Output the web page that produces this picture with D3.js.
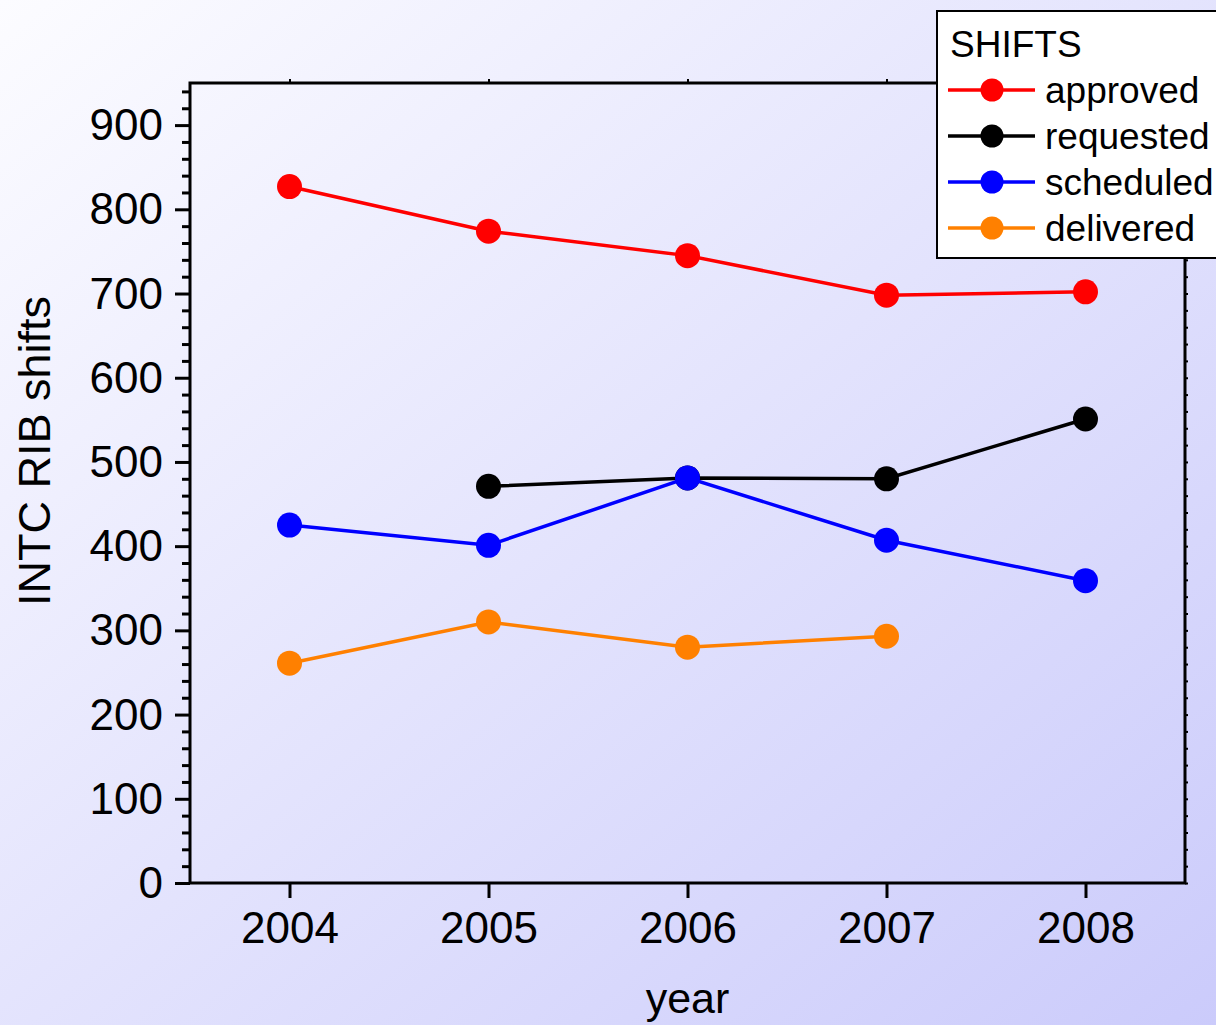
<!DOCTYPE html>
<html>
<head>
<meta charset="utf-8">
<script src="https://cdn.jsdelivr.net/npm/d3@7"></script>
<style>
  html, body { margin: 0; padding: 0; overflow: hidden; }
  svg { display: block; font-family: "Liberation Sans", Arial, sans-serif; }
</style>
</head>
<body>
<div id="chart"></div>
<script>
// data
var years = [2004, 2005, 2006, 2007, 2008];
var approved  = [827, 774, 745, 698, 702];
var requested = [null, 471, 481, 480, 551];
var scheduled = [425, 401, 481, 407, 359];
var delivered = [261, 310, 280, 293, null];
var seriesNames = ["approved", "requested", "scheduled", "delivered"];
var seriesColors = ["#ff0000", "#000000", "#0000ff", "#ff8000"];
var yTicks = [0, 100, 200, 300, 400, 500, 600, 700, 800, 900];

var width = 1216, height = 1025;
var plotLeft = 190, plotRight = 1185, plotTop = 83, plotBottom = 883;

var svg = d3.select("#chart").append("svg")
    .attr("width", width)
    .attr("height", height);

// background gradient
var grad = svg.append("defs").append("linearGradient")
    .attr("id", "bg")
    .attr("x1", "0").attr("y1", "0")
    .attr("x2", "1").attr("y2", "1");
grad.append("stop").attr("offset", "0").attr("stop-color", "#fcfcff");
grad.append("stop").attr("offset", "1").attr("stop-color", "#cbcbfb");

svg.append("rect")
    .attr("width", width).attr("height", height)
    .attr("fill", "url(#bg)");

var x = d3.scaleLinear().domain([2003.5, 2008.5]).range([plotLeft, plotRight]);
var y = d3.scaleLinear().domain([0, 950]).range([plotBottom, plotTop]);

// y axis (left) with minor ticks every 20
var minorY = d3.range(0, 951, 20).filter(function(v){ return v % 100 != 0; });
svg.append("g")
    .attr("transform", "translate(" + plotLeft + ",0)")
    .call(d3.axisLeft(y).tickValues(minorY).tickSize(8).tickFormat(""))
    .call(function(g){ g.select(".domain").remove(); g.selectAll("line").attr("stroke-width", 3); });

var yAxis = svg.append("g")
    .attr("transform", "translate(" + plotLeft + ",0)")
    .call(d3.axisLeft(y).tickValues(yTicks).tickSize(15).tickPadding(12).tickFormat(d3.format("d")));
yAxis.select(".domain").remove();
yAxis.selectAll("line").attr("stroke-width", 3);
yAxis.selectAll("text")
    .style("font-size", "44px")
    .attr("fill", "#000")
    .attr("dy", "0.33em");

// x axis (bottom)
var xAxis = svg.append("g")
    .attr("transform", "translate(0," + plotBottom + ")")
    .call(d3.axisBottom(x).tickValues(years).tickSize(15).tickPadding(14).tickFormat(d3.format("d")));
xAxis.select(".domain").remove();
xAxis.selectAll("line").attr("stroke-width", 3);
xAxis.selectAll("text")
    .style("font-size", "44px")
    .attr("fill", "#000");

// small mirror ticks on top and right
svg.append("g")
    .attr("transform", "translate(0," + plotTop + ")")
    .call(d3.axisTop(x).tickValues(years).tickSize(4).tickFormat(""))
    .call(function(g){ g.select(".domain").remove(); g.selectAll("line").attr("stroke-width", 2); });
svg.append("g")
    .attr("transform", "translate(" + plotRight + ",0)")
    .call(d3.axisRight(y).tickValues(d3.range(0, 951, 20)).tickSize(3).tickFormat(""))
    .call(function(g){ g.select(".domain").remove(); g.selectAll("line").attr("stroke-width", 2); });

// frame
svg.append("rect")
    .attr("x", plotLeft).attr("y", plotTop)
    .attr("width", plotRight - plotLeft).attr("height", plotBottom - plotTop)
    .attr("fill", "none")
    .attr("stroke", "#000")
    .attr("stroke-width", 3);

// axis titles
svg.append("text")
    .attr("x", (plotLeft + plotRight) / 2)
    .attr("y", 1013)
    .attr("text-anchor", "middle")
    .style("font-size", "43px")
    .text("year");

svg.append("text")
    .attr("transform", "translate(50,451) rotate(-90)")
    .attr("text-anchor", "middle")
    .style("font-size", "45px")
    .text("INTC RIB shifts");

// series
var allSeries = [approved, requested, scheduled, delivered];
var line = d3.line()
    .defined(function(d){ return d.v != null; })
    .x(function(d){ return x(d.year); })
    .y(function(d){ return y(d.v); });

allSeries.forEach(function(vals, i){
    var pts = years.map(function(yr, j){ return {year: yr, v: vals[j]}; });
    var g = svg.append("g");
    g.append("path")
        .datum(pts)
        .attr("d", line)
        .attr("fill", "none")
        .attr("stroke", seriesColors[i])
        .attr("stroke-width", 3.5);
    g.selectAll("circle")
        .data(pts.filter(function(d){ return d.v != null; }))
        .enter().append("circle")
        .attr("cx", function(d){ return x(d.year); })
        .attr("cy", function(d){ return y(d.v); })
        .attr("r", 12.5)
        .attr("fill", seriesColors[i]);
});

// legend
var legend = svg.append("g").attr("transform", "translate(937,11)");
legend.append("rect")
    .attr("width", 300).attr("height", 247)
    .attr("fill", "#fff")
    .attr("stroke", "#000")
    .attr("stroke-width", 2);
legend.append("text")
    .attr("x", 13).attr("y", 46)
    .style("font-size", "37px")
    .text("SHIFTS");
seriesNames.forEach(function(name, i){
    var cy = 79 + i * 46;
    legend.append("line")
        .attr("x1", 11).attr("x2", 98)
        .attr("y1", cy).attr("y2", cy)
        .attr("stroke", seriesColors[i])
        .attr("stroke-width", 3.5);
    legend.append("circle")
        .attr("cx", 55).attr("cy", cy)
        .attr("r", 11.5)
        .attr("fill", seriesColors[i]);
    legend.append("text")
        .attr("x", 108).attr("y", cy + 13)
        .style("font-size", "37px")
        .text(name);
});
</script>
</body>
</html>
